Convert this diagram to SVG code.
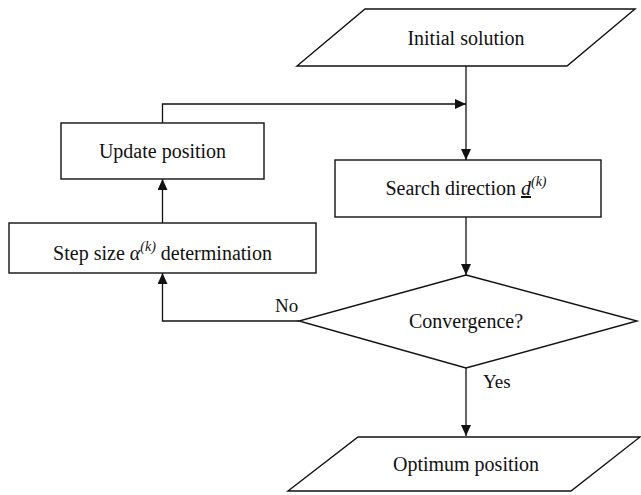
<svg xmlns="http://www.w3.org/2000/svg" width="641" height="495" viewBox="0 0 641 495">
<style>
.shape{fill:#fff;stroke:#111;stroke-width:1.4}
.conn{fill:none;stroke:#111;stroke-width:1.3}
text{font-family:"Liberation Serif","Times New Roman",serif;font-size:20px;fill:#111}
.lbl{font-size:19px}
.it{font-style:italic}
</style>
<defs>
<marker id="arr" markerUnits="userSpaceOnUse" markerWidth="11" markerHeight="10" refX="11" refY="5" orient="auto">
<path d="M0,0 L11,5 L0,10 z" fill="#111"/>
</marker>
</defs>
<rect width="641" height="495" fill="#fff"/>
<g id="connectors">
<path class="conn" d="M466,66 V160" marker-end="url(#arr)"/>
<path class="conn" d="M162.5,123 V104 H466" marker-end="url(#arr)"/>
<path class="conn" d="M466,217 V275" marker-end="url(#arr)"/>
<path class="conn" d="M299,321 H162.5 V273" marker-end="url(#arr)"/>
<path class="conn" d="M162.5,223 V179" marker-end="url(#arr)"/>
<path class="conn" d="M466,368 V436" marker-end="url(#arr)"/>
</g>
<g id="initial">
<polygon class="shape" points="365,9 635,9 567,66 297,66"/>
<text x="466" y="45" text-anchor="middle">Initial solution</text>
</g>
<g id="update">
<rect class="shape" x="61" y="123" width="203" height="56"/>
<text x="162.5" y="158" text-anchor="middle">Update position</text>
</g>
<g id="stepsize">
<rect class="shape" x="9" y="223" width="307" height="50"/>
<text x="162.5" y="260" text-anchor="middle">Step size <tspan class="it">α</tspan><tspan class="it" font-size="14" dy="-9">(k)</tspan><tspan dy="9"> determination</tspan></text>
</g>
<g id="search">
<rect class="shape" x="335" y="160" width="266" height="57"/>
<text x="466" y="195" text-anchor="middle">Search direction <tspan class="it" text-decoration="underline">d</tspan><tspan class="it" font-size="14" dy="-9">(k)</tspan></text>
</g>
<g id="convergence">
<polygon class="shape" points="466,275 637,321 466,368 299,321"/>
<text x="466" y="328" text-anchor="middle">Convergence?</text>
<text class="lbl" x="275" y="312">No</text>
<text class="lbl" x="483" y="388">Yes</text>
</g>
<g id="optimum">
<polygon class="shape" points="358,437 640,437 571,491 288,491"/>
<text x="466" y="471" text-anchor="middle">Optimum position</text>
</g>
</svg>
